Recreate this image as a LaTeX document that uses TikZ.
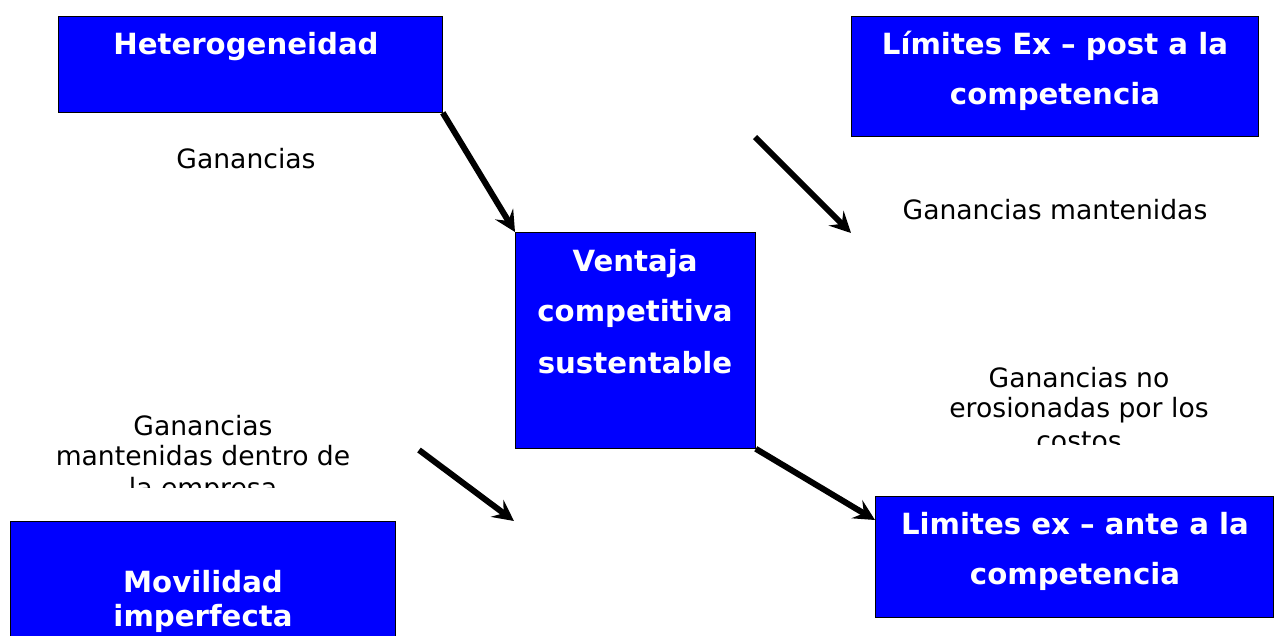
\documentclass[tikz,border=0pt]{standalone}
\usepackage{fontspec}
\setmainfont{DejaVu Sans}
\usetikzlibrary{arrows.meta}
\begin{document}
\begin{tikzpicture}[x=1pt,y=-1pt,
  box/.style={draw=black, line width=0.8pt, fill=blue, inner sep=0pt, anchor=north west},
  btext/.style={text=white, font=\fontsize{29.2}{34}\selectfont\bfseries, anchor=base, inner sep=0pt},
  ltext/.style={text=black, font=\fontsize{26.6}{30}\selectfont, anchor=base, inner sep=0pt},
  arr/.style={line width=6pt, -{Stealth[length=21pt,width=21pt,inset=8pt]}}]
\useasboundingbox[fill=white] (0,0) rectangle (1275,635);

% boxes
\node[box, minimum width=384pt, minimum height=96pt] (het) at (58,16) {};
\node[box, minimum width=407pt, minimum height=120pt] (lpost) at (851,16) {};
\node[box, minimum width=240pt, minimum height=216pt] (vent) at (515,232) {};
\node[box, minimum width=385pt, minimum height=124pt] (mov) at (10,521) {};
\node[box, minimum width=398pt, minimum height=121pt] (lante) at (875,496) {};

% box texts
\node[btext] (het1) at (246,54) {Heterogeneidad};
\node[btext] (lpost1) at (1055,54) {Límites Ex – post a la};
\node[btext] (lpost2) at (1055,104) {competencia};
\node[btext] (vent1) at (635,271) {Ventaja};
\node[btext] (vent2) at (635,321) {competitiva};
\node[btext] (vent3) at (635,373) {sustentable};
\node[btext] (mov1) at (203,592) {Movilidad};
\node[btext] (mov2) at (203,626) {imperfecta};
\node[btext] (lante1) at (1075,534) {Limites ex – ante a la};
\node[btext] (lante2) at (1075,584) {competencia};

% labels
\node[ltext] (g1) at (246,168) {Ganancias};
\node[ltext] (g2) at (1055,219) {Ganancias mantenidas};
\node[ltext] (g3a) at (1079,387) {Ganancias no};
\node[ltext] (g3b) at (1079,417) {erosionadas por los};
\begin{scope}
  \clip (900,425) rectangle (1260,444);
  \node[ltext] (g3c) at (1079,450) {costos};
\end{scope}
\node[ltext] (g4a) at (203,435) {Ganancias};
\node[ltext] (g4b) at (203,465) {mantenidas dentro de};
\begin{scope}
  \clip (30,472) rectangle (380,487);
  \node[ltext] (g4c) at (203,497) {la empresa};
\end{scope}

% arrows
\coordinate (a2s) at (755,137);
\coordinate (a2e) at (851,233);
\coordinate (a3s) at (419,450);
\coordinate (a3e) at (514,521);
\coordinate (a4e) at (875,520);
\draw[arr] (het.south east) -- (vent.north west);
\draw[arr] (a2s) -- (a2e);
\draw[arr] (a3s) -- (a3e);
\draw[arr] (vent.south east) -- (a4e);
\end{tikzpicture}
\end{document}
